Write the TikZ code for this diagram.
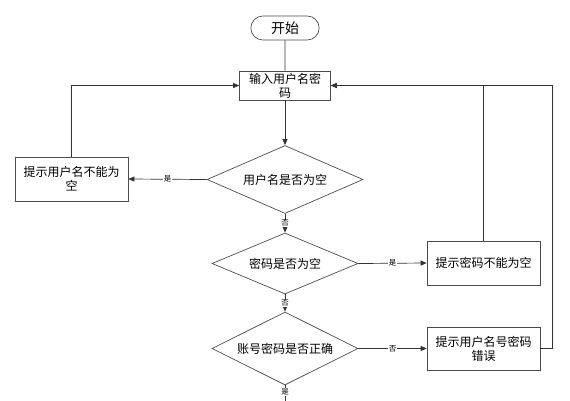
\documentclass[tikz,border=0pt]{standalone}
\usepackage{fontspec}
\setmainfont{Noto Sans CJK SC}
\usetikzlibrary{shapes,arrows.meta}
\tikzstyle{bx}=[rectangle,draw=black!70,line width=0.7pt,inner sep=1pt,align=center,font=\fontsize{12}{14}\selectfont]
\tikzstyle{dm}=[diamond,draw=black!70,line width=0.7pt,inner sep=0pt,font=\fontsize{12}{14}\selectfont]
\tikzstyle{ln}=[draw=black!80,line width=0.7pt,-{Triangle[length=6pt,width=5pt]}]
\tikzstyle{lb}=[fill=white,inner sep=0.5pt,font=\fontsize{7.5}{8}\selectfont]

\begin{document}
\begin{tikzpicture}[x=1pt,y=-1pt]
\useasboundingbox (0,0) rectangle (570,400);
\node[rounded rectangle,draw=black!70,line width=0.7pt,minimum width=75pt,minimum height=24pt,font=\fontsize{14}{16}\selectfont] (start) at (285,28) {开始};
\node[bx,minimum width=91pt,minimum height=29pt] (input) at (285,85.5) {输入用户名密\\码};
\node[dm,aspect=2.3,minimum width=156pt,minimum height=68pt] (user) at (285,179.5) {用户名是否为空};
\node[dm,aspect=2.4,minimum width=146pt,minimum height=61pt] (pwd) at (285,263.5) {密码是否为空};
\node[dm,aspect=1.95,minimum width=146pt,minimum height=73pt] (check) at (285,348.5) {账号密码是否正确};
\node[bx,minimum width=113pt,minimum height=44pt] (nouser) at (71.5,179) {提示用户名不能为\\空};
\node[bx,minimum width=113pt,minimum height=44pt] (nopwd) at (483.5,263) {提示密码不能为空};
\node[bx,minimum width=113pt,minimum height=43pt] (wrong) at (483.5,348.5) {提示用户名号密码\\错误};
\coordinate (rt) at (552,85.5);
\coordinate (down) at (285,407);
\draw[draw=black!80,line width=0.7pt] (start) -- (input);
\draw[ln] (input) -- (user);
\draw[ln] (user.west) -- node[lb] {是} (nouser.east);
\draw[ln] (nouser.north) |- (input.west);
\draw[ln] (user.south) -- node[lb] {否} (pwd.north);
\draw[ln] (pwd.east) -- node[lb] {是} (nopwd.west);
\draw[ln] (nopwd.north) |- (input.east);
\draw[ln] (pwd.south) -- node[lb] {否} (check.north);
\draw[ln] (check.east) -- node[lb] {否} (wrong.west);
\draw[ln] (wrong.east) -| (rt) -- (input.east);
\draw[ln] (check.south) -- node[lb,pos=0.3] {是} (down);
\end{tikzpicture}
\end{document}
